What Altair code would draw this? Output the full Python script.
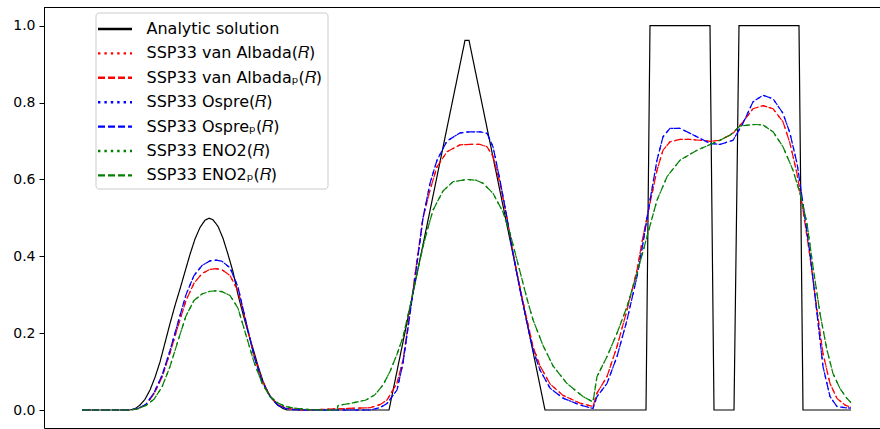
import altair as alt
import pandas as pd

# x: position on a uniform grid of 770 cells (0 .. 769); y: solution value
exact_x = [0, 48, 53, 58, 63, 68, 73, 78, 83, 88, 93, 98, 103, 108, 113, 118, 123,
           127, 131, 136, 141, 146, 151, 156, 161, 166, 171, 176, 181, 186, 191, 196, 201, 205,
           307, 383, 387, 463, 564, 568, 628, 632, 652, 657, 717, 721, 769]
exact_y = [0, 0, 0.003, 0.013, 0.028, 0.052, 0.085, 0.125, 0.175, 0.225, 0.272, 0.315, 0.36, 0.405, 0.445, 0.475, 0.494,
           0.499, 0.495, 0.478, 0.447, 0.405, 0.36, 0.3, 0.25, 0.203, 0.16, 0.115, 0.075, 0.045, 0.026, 0.012, 0.004, 0,
           0, 0.962, 0.962, 0, 0, 1, 1, 0, 0, 1, 1, 0, 0]

grid_x = [0, 48, 56, 64, 72, 80, 88, 96, 104, 112,
          120, 128, 134, 140, 148, 156, 164, 172, 180, 188,
          196, 204, 212, 220, 288, 298, 305, 315, 321, 328,
          335, 341, 348, 355, 365, 378, 388, 398, 405, 411,
          418, 425, 431, 438, 445, 451, 458, 468, 481, 498,
          511, 515, 525, 535, 545, 555, 561, 568, 575, 581,
          588, 598, 608, 618, 628, 638, 651, 661, 671, 681,
          691, 701, 708, 715, 721, 728, 735, 741, 748, 755,
          763, 769]
ospre_y = [0, 0, 0.004, 0.015, 0.045, 0.09, 0.155, 0.228, 0.3, 0.35,
           0.376, 0.388, 0.39, 0.387, 0.37, 0.32, 0.23, 0.14, 0.075, 0.035,
           0.012, 0.004, 0.001, 0, 0, 0.006, 0.017, 0.052, 0.122, 0.25,
           0.38, 0.50, 0.59, 0.65, 0.70, 0.721, 0.724, 0.724, 0.72, 0.685,
           0.598, 0.50, 0.408, 0.312, 0.226, 0.156, 0.104, 0.057, 0.031, 0.013,
           0.004, 0.035, 0.069, 0.139, 0.234, 0.347, 0.434, 0.546, 0.65, 0.711,
           0.733, 0.733, 0.72, 0.707, 0.694, 0.691, 0.702, 0.746, 0.802, 0.819,
           0.81, 0.772, 0.72, 0.642, 0.538, 0.408, 0.251, 0.113, 0.035, 0.009,
           0.006, 0.005]
albada_y = [0, 0, 0.004, 0.014, 0.042, 0.085, 0.148, 0.218, 0.285, 0.33,
            0.355, 0.366, 0.368, 0.365, 0.35, 0.31, 0.228, 0.142, 0.078, 0.037,
            0.014, 0.005, 0.002, 0, 0.006, 0.014, 0.026, 0.07, 0.13, 0.255,
            0.39, 0.50, 0.572, 0.633, 0.672, 0.69, 0.691, 0.691, 0.685, 0.66,
            0.59, 0.50, 0.41, 0.318, 0.235, 0.165, 0.115, 0.068, 0.038, 0.018,
            0.009, 0.044, 0.087, 0.165, 0.26, 0.364, 0.451, 0.538, 0.624, 0.676,
            0.698, 0.704, 0.704, 0.702, 0.699, 0.702, 0.72, 0.75, 0.784, 0.792,
            0.784, 0.75, 0.694, 0.615, 0.52, 0.399, 0.26, 0.147, 0.069, 0.030,
            0.013, 0.007]

eno2_x = [0, 48, 56, 64, 72, 80, 88, 96, 104, 112,
          120, 128, 134, 140, 148, 156, 164, 172, 180, 188,
          196, 204, 212, 220, 228, 238, 255, 256, 268, 284,
          293, 301, 308, 315, 321, 328, 335, 341, 345, 351,
          361, 371, 385, 394, 401, 411, 421, 428, 435, 441,
          446, 451, 461, 471, 485, 501, 511, 515, 525, 535,
          545, 555, 565, 575, 585, 598, 615, 631, 638, 648,
          658, 671, 681, 691, 701, 711, 718, 725, 731, 738,
          745, 751, 758, 765, 769]
eno2_y = [0, 0, 0.003, 0.012, 0.028, 0.06, 0.113, 0.18, 0.245, 0.285,
          0.302, 0.309, 0.31, 0.308, 0.298, 0.265, 0.195, 0.125, 0.07, 0.035,
          0.018, 0.009, 0.005, 0.003, 0.001, 0, 0, 0.012, 0.017, 0.026,
          0.04, 0.065, 0.1, 0.145, 0.19, 0.27, 0.355, 0.425, 0.465, 0.52,
          0.57, 0.594, 0.6, 0.598, 0.59, 0.564, 0.515, 0.46, 0.39, 0.33,
          0.28, 0.235, 0.168, 0.115, 0.069, 0.035, 0.021, 0.087, 0.139, 0.2,
          0.269, 0.355, 0.451, 0.546, 0.607, 0.65, 0.676, 0.694, 0.702, 0.715,
          0.739, 0.743, 0.742, 0.724, 0.685, 0.624, 0.564, 0.486, 0.373, 0.251,
          0.156, 0.095, 0.056, 0.030, 0.019]

names = ["Analytic solution",
         "SSP33 van Albada(\U0001D445)", "SSP33 van Albada\u209A(\U0001D445)",
         "SSP33 Ospre(\U0001D445)", "SSP33 Ospre\u209A(\U0001D445)",
         "SSP33 ENO2(\U0001D445)", "SSP33 ENO2\u209A(\U0001D445)"]
colors = ["#000000", "#ff0000", "#ff0000", "#0000ff", "#0000ff", "#008000", "#008000"]
dashes = [[1, 0], [2.4, 4], [7, 3], [2.4, 4], [7, 3], [2.4, 4], [7, 3]]

series_data = [(exact_x, exact_y), (grid_x, albada_y), (grid_x, albada_y),
               (grid_x, ospre_y), (grid_x, ospre_y), (eno2_x, eno2_y), (eno2_x, eno2_y)]

rows = []
for i, (name, (xs, ys)) in enumerate(zip(names, series_data)):
    for xv, yv in zip(xs, ys):
        rows.append({"series": name, "k": i, "x": xv, "y": yv})
df = pd.DataFrame(rows)

leg = dict(title=None, orient="none", legendX=51.5, legendY=5.5,
           fillColor="rgba(255,255,255,0.8)", strokeColor="#cccccc", cornerRadius=3,
           padding=5, symbolType="M-1.4,0L2,0", symbolSize=400, symbolStrokeWidth=2.4,
           labelFontSize=16, labelFont="DejaVu Sans", labelColor="black",
           labelOffset=23, rowPadding=4.4, labelLimit=0)

lines = alt.Chart(df).mark_line(strokeWidth=1.2, clip=True).encode(
    x=alt.X("x:Q", scale=alt.Scale(domain=[-38, 798], nice=False, zero=False),
            axis=alt.Axis(title=None, labels=False, ticks=False, grid=False,
                          domainColor="black", domainWidth=1)),
    y=alt.Y("y:Q", scale=alt.Scale(domain=[-0.0468, 1.0487], nice=False, zero=False),
            axis=alt.Axis(title=None, values=[0, 0.2, 0.4, 0.6, 0.8, 1.0], format=".1f",
                          grid=False, labelFontSize=14, labelFont="DejaVu Sans",
                          labelColor="black", tickColor="black", tickSize=5, tickWidth=1,
                          labelPadding=4, domainColor="black", domainWidth=1)),
    color=alt.Color("series:N", scale=alt.Scale(domain=names, range=colors), legend=alt.Legend(**leg)),
    strokeDash=alt.StrokeDash("series:N", scale=alt.Scale(domain=names, range=dashes), legend=alt.Legend(**leg)),
    order=alt.Order("x:Q"),
)

top = alt.Chart(df).mark_rule(color="black", strokeWidth=1).encode(
    x=alt.value(0), x2=alt.value(836), y=alt.value(0.5))

chart = alt.layer(lines, top).properties(
    width=836, height=421,
    padding={"left": 44, "top": 7, "right": 0, "bottom": 1},
    autosize=alt.AutoSizeParams(type="none"),
).configure_view(stroke=None)

chart.save("out.html", embed_options={"renderer": "svg", "actions": False})
